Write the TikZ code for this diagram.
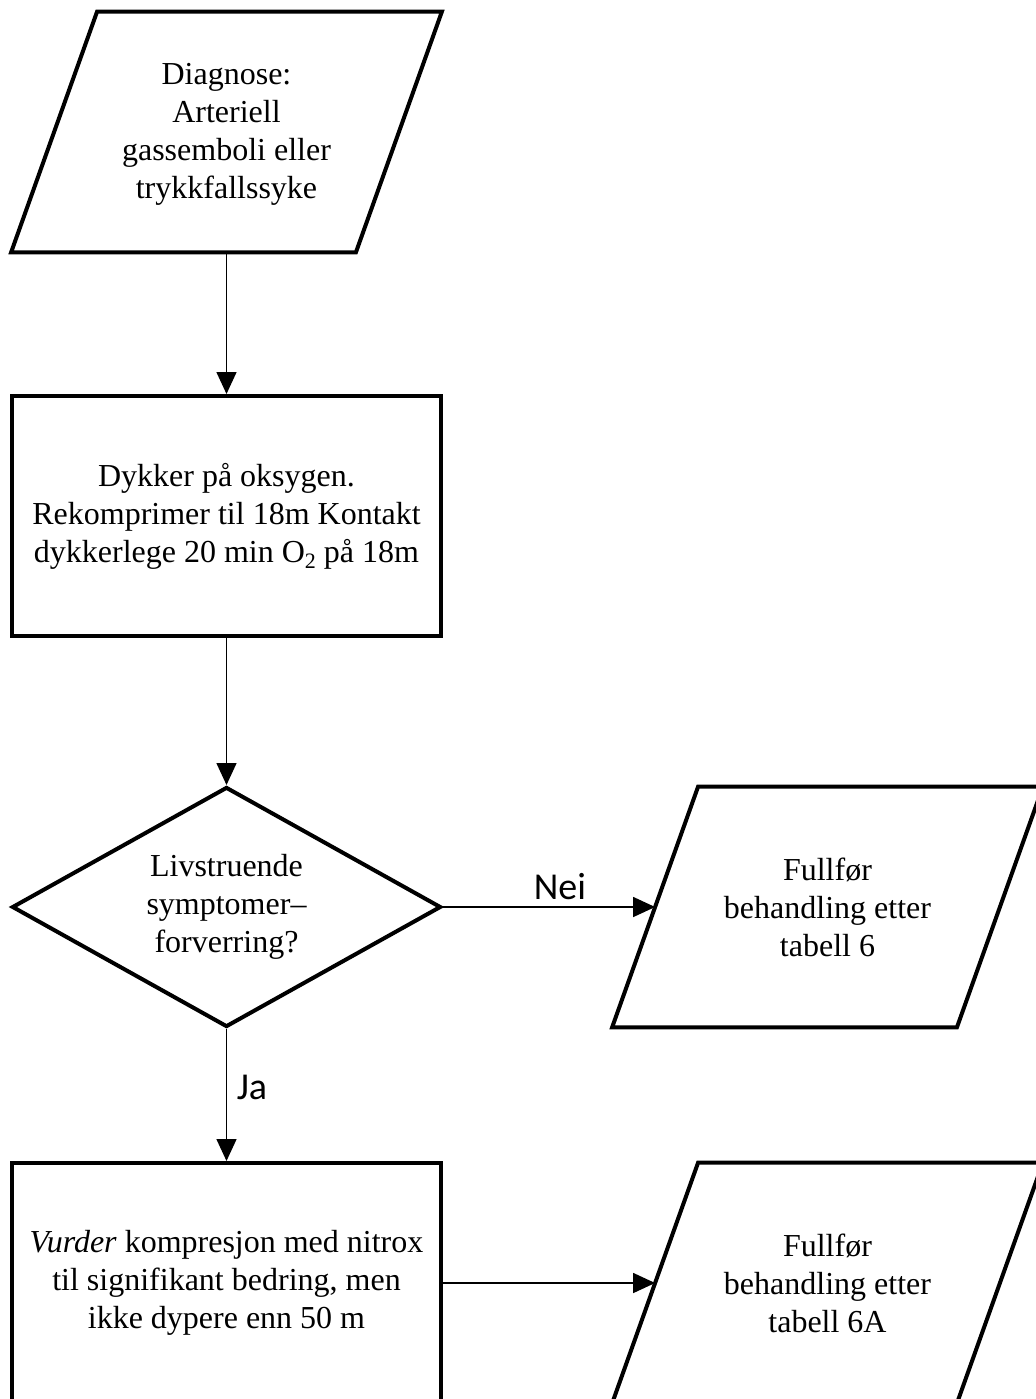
\documentclass[tikz,border=0pt]{standalone}
\usepackage{fontspec}
\setmainfont{Liberation Serif}
\newfontfamily\lblfont{Carlito}
\usetikzlibrary{shapes.geometric,arrows.meta,calc}
\newcommand\lavt[1]{\raisebox{-3pt}{\fontsize{11}{12}\selectfont #1}}

\begin{document}
\begin{tikzpicture}[x=0.5pt,y=-0.5pt,
    txt/.style={align=center,font=\fontsize{16}{19}\selectfont,inner sep=0pt},
    boks/.style={txt,draw,line width=2pt,minimum width=214.5pt,minimum height=120pt},
    valg/.style={txt,draw,line width=2pt,diamond,aspect=1.7875,minimum width=214.5pt,minimum height=120pt},
    para/.style={txt,minimum width=172pt,minimum height=120pt},
    pil/.style={-{Triangle[length=11pt,width=10pt]},line width=0.75pt},
    svar/.style={font=\lblfont\fontsize{19}{22}\selectfont,inner sep=0pt}]
      \useasboundingbox (0,0) rectangle (1035,1399);
      \node[para] (diag) at (226.5,134) {Diagnose:\\Arteriell\\gassemboli eller\\trykkfallssyke};
      \node[boks] (rekomp) at (226.5,516) {Dykker på oksygen.\\Rekomprimer til 18m Kontakt\\dykkerlege 20 min O\lavt{2} på 18m};
      \node[valg] (livs) at (226.5,907) {Livstruende\\symptomer–\\forverring?};
      \node[para] (tab6) at (827.5,907) {Fullfør\\behandling etter\\tabell 6};
      \node[boks] (nitrox) at (226.5,1283) {\textit{Vurder} kompresjon med nitrox\\til signifikant bedring, men\\ikke dypere enn 50 m};
      \node[para] (tab6a) at (827.5,1283) {Fullfør\\behandling etter\\tabell 6A};
      % parallellogram rundt tekstnodene
      \foreach \n/\d in {diag/-2,tab6/0,tab6a/0}
        \draw[line width=2pt] ($(\n.north west)+(43,\d)$) -- ($(\n.north east)+(43,\d)$)
          -- ($(\n.south east)+(-43,\d)$) -- ($(\n.south west)+(-43,\d)$) -- cycle;
      \draw[pil] ($(diag.south)+(0,-2)$) -- (rekomp.north);
      \draw[pil] (rekomp.south) -- (livs.north);
      \draw[pil] (livs.east) -- (tab6.west);
      \draw[pil] (livs.south) -- (nitrox.north);
      \draw[pil] (nitrox.east) -- (tab6a.west);
      \node[svar] (nei) at (560,887) {Nei};
      \node[svar] (ja) at (252,1087) {Ja};
    \end{tikzpicture}
\end{document}
